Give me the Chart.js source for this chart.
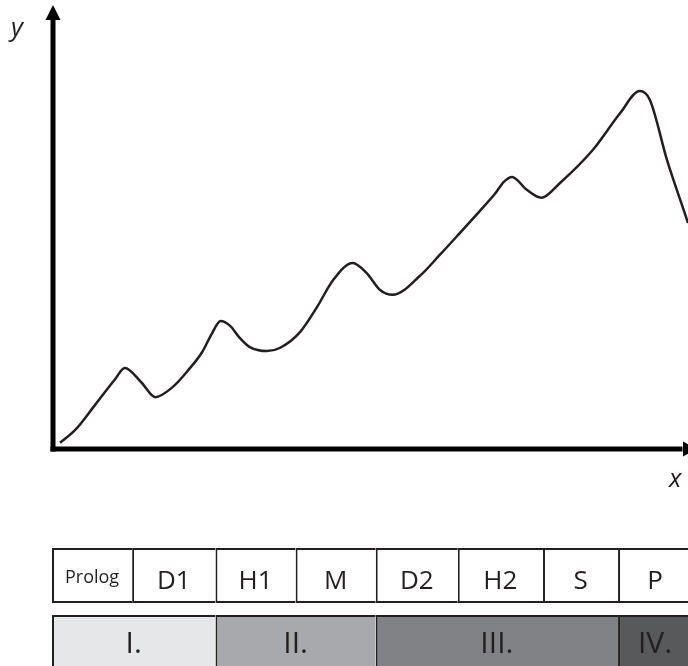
<!DOCTYPE html>
<html>
<head>
<meta charset="utf-8">
<script src="https://cdn.jsdelivr.net/npm/chart.js@4/dist/chart.umd.min.js"></script>
<style>
  html, body { margin: 0; padding: 0; background: #fff; overflow: hidden; width: 688px; height: 666px; }
  #wrap { position: relative; width: 688px; height: 666px; }
  #curveChart { position: absolute; left: 0; top: 0; }
  #phaseChart { position: absolute; left: 0; top: 500px; }
</style>
</head>
<body>
<div id="wrap">
  <canvas id="curveChart" width="688" height="500"></canvas>
  <canvas id="phaseChart" width="688" height="180"></canvas>
</div>
<script>
// curve (x: 0..100 along the axis, y: 0..100 up the axis)
const curveX = [1.1, 3.5, 6.6, 9.8, 11.3, 14.0, 16.1, 18.7, 21.3, 23.5, 25.0, 26.4, 27.9, 29.4, 31.0, 33.7, 35.7, 38.9, 41.6, 44.1, 47.2, 49.4, 51.5, 53.5, 57.8, 60.9, 64.1, 67.2, 69.6, 71.0, 72.3, 74.6, 76.9, 79.8, 85.0, 89.3, 92.4, 94.0, 96.7, 100, 101.9];
const curveY = [1.4, 4.3, 9.9, 15.8, 18.3, 14.9, 11.7, 13.8, 17.8, 21.9, 26.0, 28.9, 27.8, 25.1, 23.0, 22.1, 22.8, 26.4, 32.1, 38.1, 42.0, 39.7, 35.9, 34.8, 39.1, 43.8, 48.8, 53.7, 57.6, 60.3, 61.4, 58.5, 56.7, 60.0, 67.5, 75.8, 80.8, 78.8, 65.2, 51.0, 42.2];

// table rows
const rows = ["phases", "eras"];
const phaseLabels = ["Prolog", "D1", "H1", "M", "D2", "H2", "S", "P"];
const phaseBounds = [0, 12.6, 25.7, 38.3, 50.9, 63.8, 77.2, 89.0, 104];
const eraLabels = ["I.", "II.", "III.", "IV."];
const eraBounds = [0, 25.7, 50.9, 89.0, 104];
const eraColors = ["#e6e7e8", "#a7a9ac", "#808285", "#58595b"];

const INK = "#231f20";

// axes with arrow heads + italic axis names
const axesArrows = {
  id: "axesArrows",
  afterDraw(chart) {
    const { ctx, chartArea: a } = chart;
    ctx.save();
    ctx.fillStyle = "#000";
    // y axis
    ctx.fillRect(a.left - 2.5, a.top + 12, 5, a.bottom - a.top - 12 + 2.5);
    ctx.beginPath();
    ctx.moveTo(a.left, a.top - 1);
    ctx.lineTo(a.left + 7.5, a.top + 14);
    ctx.lineTo(a.left - 7.5, a.top + 14);
    ctx.closePath();
    ctx.fill();
    // x axis
    ctx.fillRect(a.left - 2.5, a.bottom - 2.5, a.right - a.left - 3, 5);
    ctx.beginPath();
    ctx.moveTo(a.right + 9, a.bottom);
    ctx.lineTo(a.right - 5, a.bottom - 7.5);
    ctx.lineTo(a.right - 5, a.bottom + 7.5);
    ctx.closePath();
    ctx.fill();
    // names
    ctx.fillStyle = INK;
    ctx.font = "italic 26px 'Open Sans'";
    ctx.textAlign = "left";
    ctx.textBaseline = "alphabetic";
    ctx.fillText("y", 11, 36);
    ctx.fillText("x", 669, 487);
    ctx.restore();
  }
};

new Chart(document.getElementById("curveChart"), {
  type: "line",
  data: {
    datasets: [{
      data: curveX.map((x, i) => ({ x, y: curveY[i] })),
      borderColor: INK,
      borderWidth: 2.5,
      pointRadius: 0,
      fill: false,
      cubicInterpolationMode: "monotone"
    }]
  },
  options: {
    responsive: false,
    animation: false,
    layout: { padding: { left: 53, top: 6, right: 0, bottom: 51 } },
    plugins: { legend: { display: false }, tooltip: { enabled: false } },
    scales: {
      x: {
        type: "linear", min: 0, max: 100,
        ticks: { display: false },
        grid: { display: false, drawTicks: false },
        border: { display: false }
      },
      y: {
        type: "linear", min: 0, max: 100,
        ticks: { display: false },
        grid: { display: false, drawTicks: false },
        border: { display: false }
      }
    }
  },
  plugins: [axesArrows]
});

// one floating bar per table cell
const cellSets = [];
phaseLabels.forEach((name, i) => {
  cellSets.push({
    label: name,
    data: [{ x: [phaseBounds[i], phaseBounds[i + 1]], y: rows[0] }],
    backgroundColor: "#fff",
    font: i === 0 ? 18 : 26,
    lift: i === 0 ? 7.5 : 13.5
  });
});
eraLabels.forEach((name, i) => {
  cellSets.push({
    label: name,
    data: [{ x: [eraBounds[i], eraBounds[i + 1]], y: rows[1] }],
    backgroundColor: eraColors[i],
    font: 30,
    lift: 10.5
  });
});
cellSets.forEach(ds => {
  ds.borderColor = INK;
  ds.borderWidth = { top: 2, bottom: 2, left: 2, right: 0 };
  ds.borderSkipped = false;
  ds.clip = false;
});

const cellText = {
  id: "cellText",
  afterDatasetsDraw(chart) {
    const ctx = chart.ctx;
    ctx.save();
    ctx.fillStyle = INK;
    ctx.textAlign = "center";
    ctx.textBaseline = "alphabetic";
    chart.data.datasets.forEach((ds, i) => {
      const bar = chart.getDatasetMeta(i).data[0];
      if (!bar) return;
      const left = Math.min(bar.x, bar.base);
      const right = Math.max(bar.x, bar.base);
      // cells running off the edge: centre on the visible part
      const midX = right > chart.width ? (left + chart.width) / 2 + 2 : (left + right) / 2;
      ctx.font = ds.font + "px 'Open Sans'";
      ctx.fillText(ds.label, midX, bar.y + ds.lift);
    });
    ctx.restore();
  }
};

new Chart(document.getElementById("phaseChart"), {
  type: "bar",
  data: { labels: rows, datasets: cellSets },
  options: {
    indexAxis: "y",
    responsive: false,
    animation: false,
    grouped: false,
    categoryPercentage: 1,
    barPercentage: 0.82,
    layout: { padding: { left: 52, top: 42, right: 0, bottom: 4 } },
    plugins: { legend: { display: false }, tooltip: { enabled: false } },
    scales: {
      x: {
        type: "linear", min: 0, max: 100,
        ticks: { display: false },
        grid: { display: false, drawTicks: false },
        border: { display: false }
      },
      y: {
        type: "category",
        ticks: { display: false },
        grid: { display: false, drawTicks: false },
        border: { display: false }
      }
    }
  },
  plugins: [cellText]
});
</script>
</body>
</html>
